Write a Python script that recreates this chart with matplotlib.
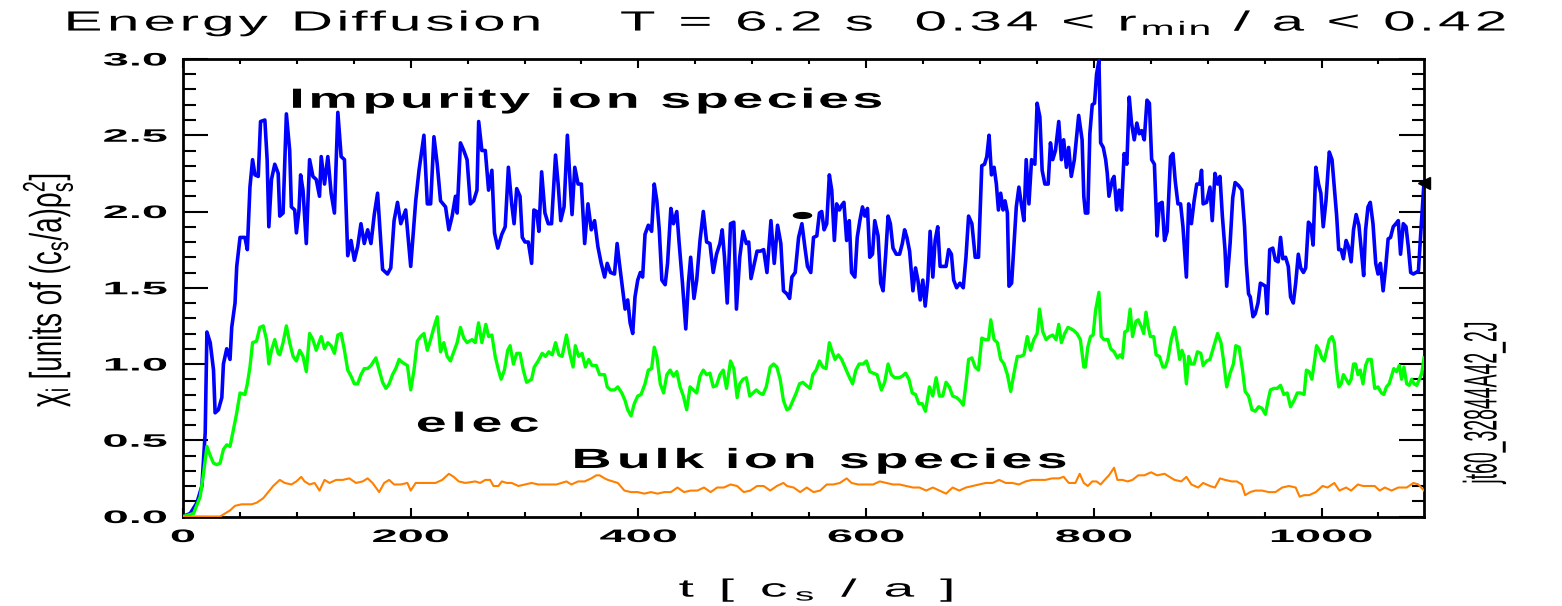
import numpy as np
import matplotlib
matplotlib.use("Agg")
import matplotlib.pyplot as plt
from matplotlib.patheffects import AbstractPathEffect
from matplotlib.path import Path
from matplotlib.transforms import IdentityTransform, Affine2D
from matplotlib.markers import MarkerStyle
from matplotlib.ticker import MultipleLocator, FixedLocator, FormatStrFormatter

# ---------------------------------------------------------------- data
# (t [c_s/a], chi) samples for each channel
impurity = np.array([
    (0, 0.00), (6.4, 0.02), (12.2, 0.09), (16.6, 0.20), (19.5, 0.55), (21.0, 1.21), (23.9, 1.14),
    (26.8, 0.96), (28.2, 0.68), (31.1, 0.70), (34.1, 0.78), (35.5, 1.00), (38.4, 1.10), (41.3, 1.03),
    (42.8, 1.24), (45.7, 1.40), (47.2, 1.64), (50.1, 1.83), (54.4, 1.83), (56.5, 1.75), (58.8, 2.16),
    (61.1, 2.34), (63.2, 2.24), (66.1, 2.23), (68.1, 2.59), (71.9, 2.60), (73.9, 2.34), (75.4, 1.90),
    (77.7, 2.21), (80.6, 2.31), (83.6, 2.25), (85.0, 1.97), (87.9, 1.99), (90.8, 2.64), (93.7, 2.40),
    (95.2, 2.03), (98.1, 2.01), (99.6, 1.86), (101.9, 2.01), (103.3, 2.24), (105.4, 2.14), (108.3, 1.79),
    (111.2, 2.34), (114.1, 2.23), (117.0, 2.21), (119.9, 2.10), (121.4, 2.36), (124.3, 2.18), (127.2, 2.36),
    (130.1, 2.12), (133.0, 1.99), (136.0, 2.65), (138.9, 2.36), (141.8, 2.34), (144.7, 1.71), (147.6, 1.81),
    (150.5, 1.68), (153.4, 1.77), (156.3, 1.92), (159.2, 1.79), (162.2, 1.88), (165.1, 1.79), (168.0, 1.98),
    (170.9, 2.12), (175.3, 1.62), (179.6, 1.59), (182.5, 1.63), (185.4, 1.94), (188.4, 2.06), (191.3, 1.92),
    (195.6, 2.01), (200.0, 1.64), (204.4, 2.07), (207.3, 2.27), (211.6, 2.50), (214.6, 2.05), (217.5, 2.05),
    (220.4, 2.49), (223.3, 2.31), (226.2, 2.07), (230.6, 2.03), (233.5, 1.88), (236.4, 1.97), (239.3, 2.10),
    (240.8, 1.99), (243.7, 2.45), (246.6, 2.40), (249.5, 2.34), (252.4, 2.05), (255.3, 2.07), (258.2, 2.14),
    (259.7, 2.59), (262.5, 2.40), (265.5, 2.40), (268.4, 2.14), (271.3, 2.27), (273.6, 1.86), (276.5, 1.76),
    (280.0, 1.85), (283.0, 1.90), (285.8, 2.29), (288.7, 2.05), (290.8, 1.92), (293.1, 2.15), (296.0, 2.10),
    (298.0, 1.83), (300.4, 1.80), (303.3, 1.80), (306.2, 1.66), (308.2, 2.01), (310.6, 2.00), (312.6, 1.87),
    (315.0, 2.26), (317.9, 1.99), (320.8, 1.92), (323.7, 1.92), (327.2, 2.37), (329.5, 2.18), (331.8, 1.94),
    (334.7, 2.03), (337.6, 2.50), (339.7, 2.23), (341.7, 1.98), (344.1, 2.29), (347.0, 2.18), (349.9, 2.18),
    (352.8, 1.79), (355.7, 2.05), (358.6, 1.88), (361.5, 1.94), (364.4, 1.77), (367.3, 1.66), (370.3, 1.57),
    (372.6, 1.66), (375.5, 1.60), (379.0, 1.59), (381.3, 1.79), (383.3, 1.66), (386.3, 1.48), (388.3, 1.36),
    (390.6, 1.42), (392.7, 1.27), (395.0, 1.20), (397.0, 1.44), (399.4, 1.55), (401.7, 1.60), (403.7, 1.57),
    (405.8, 1.85), (408.7, 1.91), (411.6, 1.87), (413.9, 2.18), (416.2, 2.07), (418.3, 1.88), (420.6, 1.55),
    (423.5, 1.52), (425.6, 1.66), (428.5, 2.02), (430.8, 1.92), (433.7, 2.00), (435.7, 1.80), (438.7, 1.53),
    (441.6, 1.23), (443.9, 1.53), (445.9, 1.70), (448.8, 1.43), (451.2, 1.55), (454.1, 1.81), (457.0, 2.00),
    (459.9, 1.80), (462.8, 1.79), (465.7, 1.60), (468.6, 1.72), (471.6, 1.79), (473.6, 1.88), (475.6, 1.70),
    (478.0, 1.40), (480.9, 1.92), (483.8, 1.93), (486.1, 1.36), (489.0, 1.70), (491.9, 1.87), (494.8, 1.79),
    (496.9, 1.80), (498.9, 1.56), (501.8, 1.66), (504.2, 1.74), (507.1, 1.74), (510.0, 1.75), (512.9, 1.60),
    (516.4, 1.94), (519.3, 1.66), (522.2, 1.91), (525.1, 1.79), (527.4, 1.48), (530.4, 1.46), (532.8, 1.43),
    (534.8, 1.57), (537.7, 1.60), (540.7, 1.83), (543.6, 1.92), (546.5, 1.75), (548.5, 1.64), (551.4, 1.60),
    (553.8, 1.83), (556.7, 1.84), (559.0, 1.99), (561.0, 2.00), (563.1, 1.88), (565.4, 1.92), (567.7, 2.24),
    (569.8, 2.14), (572.1, 1.81), (574.1, 2.05), (576.5, 2.01), (578.5, 2.04), (580.5, 2.06), (582.9, 1.81),
    (585.2, 1.94), (587.2, 1.60), (590.1, 1.57), (592.2, 1.83), (594.5, 1.94), (596.8, 2.03), (598.9, 1.97),
    (601.2, 2.02), (603.2, 1.70), (605.6, 1.72), (607.6, 1.94), (610.5, 1.84), (612.8, 1.53), (614.9, 1.48),
    (617.2, 1.72), (619.3, 1.97), (621.3, 1.92), (623.6, 1.76), (626.5, 1.72), (629.4, 1.72), (631.8, 1.79),
    (633.8, 1.88), (635.8, 1.83), (638.2, 1.74), (641.1, 1.48), (643.4, 1.63), (645.5, 1.55), (647.5, 1.42),
    (649.8, 1.55), (651.9, 1.38), (654.2, 1.55), (656.2, 1.87), (658.6, 1.57), (660.6, 1.81), (662.9, 1.90),
    (665.0, 1.64), (667.3, 1.64), (670.2, 1.64), (672.5, 1.75), (674.9, 1.72), (676.9, 1.55), (679.5, 1.50),
    (682.4, 1.53), (685.3, 1.50), (687.7, 1.70), (690.0, 1.97), (692.9, 1.92), (695.8, 1.70), (698.7, 1.70),
    (701.6, 2.30), (704.0, 2.31), (706.0, 2.36), (708.0, 2.50), (710.1, 2.24), (712.4, 2.29), (714.4, 2.18),
    (716.2, 2.01), (718.2, 2.12), (720.3, 2.01), (722.0, 2.07), (724.1, 1.99), (725.5, 1.51), (727.8, 1.53),
    (729.9, 1.79), (731.9, 2.03), (734.2, 2.16), (736.3, 2.05), (738.6, 1.94), (740.6, 2.34), (743.0, 2.05),
    (745.3, 2.34), (748.2, 2.31), (750.2, 2.71), (752.6, 2.62), (754.6, 2.27), (757.0, 2.18), (759.9, 2.18),
    (761.9, 2.45), (763.9, 2.34), (766.3, 2.40), (769.2, 2.59), (771.5, 2.34), (773.5, 2.47), (775.9, 2.29),
    (777.9, 2.42), (780.2, 2.23), (782.9, 2.34), (786.7, 2.63), (789.7, 2.47), (791.2, 2.10), (792.6, 1.99),
    (794.7, 1.99), (796.5, 2.51), (798.6, 2.70), (800.6, 2.71), (802.4, 2.90), (804.5, 2.99), (806.0, 2.45),
    (808.3, 2.42), (810.4, 2.34), (811.8, 2.25), (813.3, 2.10), (816.3, 2.21), (817.8, 2.23), (820.1, 2.01),
    (822.2, 2.14), (824.3, 2.01), (826.6, 2.38), (829.0, 2.31), (831.1, 2.75), (833.1, 2.58), (835.5, 2.47),
    (837.8, 2.58), (839.9, 2.51), (842.0, 2.53), (844.3, 2.47), (846.7, 2.73), (848.8, 2.71), (850.8, 2.34),
    (853.2, 2.31), (855.6, 1.84), (857.6, 2.05), (860.0, 2.06), (862.1, 1.81), (864.4, 1.87), (867.4, 2.36),
    (869.5, 2.38), (871.5, 2.20), (873.9, 2.05), (876.2, 2.05), (878.3, 1.90), (881.3, 1.57), (883.3, 2.05),
    (885.7, 1.92), (888.1, 2.07), (890.4, 2.18), (893.1, 2.18), (894.6, 2.27), (896.0, 2.05), (899.0, 2.06),
    (902.0, 2.16), (904.0, 1.94), (906.4, 2.25), (908.7, 2.18), (910.8, 2.23), (912.9, 1.97), (915.2, 1.75),
    (916.7, 1.51), (919.7, 1.79), (922.0, 2.09), (924.1, 2.19), (927.1, 2.17), (930.0, 2.14), (932.4, 1.90),
    (933.9, 1.66), (935.9, 1.46), (937.4, 1.44), (939.8, 1.31), (941.8, 1.33), (944.2, 1.40), (946.3, 1.53),
    (948.6, 1.52), (950.7, 1.51), (952.2, 1.33), (954.5, 1.75), (957.2, 1.76), (959.5, 1.68), (961.9, 1.67),
    (964.0, 1.83), (966.0, 1.69), (968.4, 1.70), (970.8, 1.64), (972.8, 1.44), (975.2, 1.40), (977.3, 1.53),
    (979.6, 1.72), (981.7, 1.63), (984.1, 1.60), (986.1, 1.63), (988.5, 1.93), (990.6, 1.91), (992.6, 1.78),
    (995.0, 2.29), (997.4, 2.18), (999.4, 2.12), (1001.5, 1.90), (1003.9, 2.07), (1006.8, 2.39), (1009.2, 2.34),
    (1011.2, 2.16), (1013.3, 1.97), (1015.1, 1.75), (1017.2, 1.75), (1019.2, 1.69), (1021.6, 1.81), (1023.6, 1.77),
    (1026.0, 1.67), (1028.1, 1.88), (1030.4, 1.98), (1032.8, 1.91), (1034.9, 1.75), (1037.0, 1.58), (1038.7, 1.88),
    (1040.8, 2.03), (1042.8, 2.06), (1045.2, 1.92), (1047.6, 1.66), (1049.6, 1.59), (1051.7, 1.66), (1054.1, 1.48),
    (1056.4, 1.64), (1058.5, 1.82), (1060.6, 1.83), (1063.0, 1.90), (1065.3, 1.92), (1067.4, 1.94), (1069.4, 1.72),
    (1071.8, 1.92), (1074.2, 1.90), (1076.2, 1.77), (1078.3, 1.60), (1080.7, 1.59), (1083.0, 1.60), (1085.1, 1.61),
    (1087.5, 1.90), (1090.0, 2.19),
])

electron = np.array([
    (0, 0.00), (9.3, 0.02), (15.1, 0.13), (18.0, 0.28), (21.0, 0.46), (23.9, 0.40), (26.8, 0.35),
    (29.7, 0.34), (32.6, 0.35), (35.5, 0.44), (38.4, 0.47), (41.3, 0.46), (44.3, 0.57), (47.2, 0.68),
    (50.1, 0.81), (54.4, 0.80), (56.5, 0.87), (58.8, 0.98), (61.1, 1.14), (64.6, 1.15), (67.5, 1.24),
    (70.5, 1.25), (73.4, 1.16), (75.4, 1.00), (77.7, 1.09), (80.6, 1.16), (83.6, 1.07), (85.0, 1.06),
    (87.9, 1.14), (90.8, 1.25), (93.7, 1.14), (96.7, 1.05), (99.6, 1.02), (102.5, 1.09), (105.4, 1.05),
    (108.3, 0.95), (111.2, 1.20), (114.1, 1.16), (117.0, 1.09), (121.4, 1.18), (124.3, 1.10), (127.2, 1.14),
    (130.1, 1.12), (133.0, 1.07), (136.0, 1.19), (138.9, 1.20), (141.8, 1.09), (144.7, 0.96), (147.6, 0.92),
    (150.5, 0.87), (153.4, 0.87), (156.3, 0.93), (159.2, 0.97), (162.2, 0.97), (165.1, 0.99), (169.4, 1.04),
    (172.3, 0.96), (175.3, 0.88), (178.2, 0.84), (181.1, 0.87), (184.0, 0.93), (186.9, 0.97), (189.8, 1.03),
    (192.7, 1.01), (197.1, 0.99), (200.0, 0.83), (202.9, 0.96), (205.8, 1.15), (208.7, 1.18), (211.6, 1.20),
    (214.6, 1.09), (217.5, 1.16), (220.4, 1.24), (223.3, 1.31), (226.2, 1.08), (229.1, 1.14), (232.0, 1.05),
    (234.9, 1.02), (237.8, 1.08), (240.8, 1.14), (243.7, 1.24), (246.6, 1.17), (249.5, 1.14), (253.8, 1.16),
    (256.7, 1.14), (259.6, 1.27), (262.5, 1.14), (266.0, 1.26), (268.4, 1.18), (271.3, 1.19), (274.2, 1.05),
    (277.1, 0.96), (279.4, 0.90), (282.3, 0.96), (285.2, 1.09), (287.3, 1.12), (290.2, 1.00), (293.1, 1.07),
    (296.0, 1.07), (298.9, 0.96), (301.8, 0.88), (306.2, 0.90), (308.5, 0.98), (312.0, 1.02), (315.5, 1.07),
    (318.4, 1.05), (321.3, 1.08), (324.3, 1.06), (327.2, 1.14), (330.1, 1.06), (333.0, 1.05), (336.8, 1.19),
    (339.7, 1.07), (342.6, 0.98), (344.6, 1.12), (347.5, 1.05), (350.5, 1.07), (353.4, 0.98), (356.3, 1.03),
    (359.2, 0.99), (363.0, 0.99), (365.9, 0.93), (370.3, 0.93), (372.6, 0.85), (375.5, 0.83), (379.0, 0.83),
    (381.9, 0.85), (385.4, 0.81), (388.3, 0.76), (390.6, 0.70), (393.5, 0.66), (396.4, 0.74), (399.4, 0.79),
    (402.3, 0.80), (405.8, 0.87), (408.7, 0.96), (411.6, 0.97), (413.9, 1.11), (416.2, 1.05), (419.2, 0.87),
    (422.1, 0.81), (425.0, 0.93), (427.9, 0.96), (430.8, 0.92), (433.7, 0.95), (436.6, 0.85), (439.5, 0.79),
    (442.4, 0.70), (445.4, 0.85), (448.3, 0.83), (451.2, 0.81), (454.1, 0.92), (457.0, 0.96), (459.9, 0.93),
    (462.8, 0.94), (465.7, 0.85), (468.6, 0.86), (471.6, 0.93), (474.5, 0.96), (477.4, 0.84), (480.9, 1.02),
    (483.8, 0.97), (486.7, 0.78), (489.0, 0.87), (491.9, 0.90), (494.8, 0.91), (497.8, 0.79), (500.7, 0.81),
    (503.6, 0.83), (506.5, 0.81), (509.4, 0.80), (512.3, 0.85), (515.8, 0.98), (518.7, 1.00), (521.6, 0.98),
    (524.5, 0.90), (527.4, 0.76), (530.4, 0.70), (532.8, 0.71), (535.7, 0.76), (538.6, 0.81), (541.5, 0.87),
    (544.4, 0.88), (547.4, 0.86), (550.8, 0.84), (553.2, 0.93), (556.1, 0.96), (559.0, 1.02), (561.9, 0.98),
    (564.8, 0.97), (567.7, 1.14), (569.8, 1.09), (572.7, 1.03), (575.6, 1.06), (578.5, 1.03), (581.4, 0.98),
    (584.3, 0.93), (588.1, 0.87), (591.0, 0.96), (593.9, 1.00), (597.4, 1.00), (600.3, 1.02), (603.2, 0.95),
    (606.2, 0.94), (609.6, 0.93), (613.4, 0.83), (616.3, 0.88), (619.3, 1.00), (622.2, 0.93), (625.1, 0.91),
    (628.9, 0.91), (631.8, 0.92), (634.7, 0.94), (637.6, 0.90), (640.5, 0.81), (643.4, 0.80), (646.3, 0.74),
    (649.2, 0.74), (652.1, 0.69), (655.6, 0.85), (658.5, 0.79), (661.5, 0.91), (664.4, 0.79), (667.3, 0.79),
    (670.2, 0.88), (673.1, 0.85), (676.0, 0.79), (679.5, 0.78), (682.4, 0.76), (685.3, 0.73), (687.7, 0.87),
    (690.0, 1.03), (692.9, 1.04), (695.8, 0.98), (698.7, 0.96), (701.6, 1.17), (704.5, 1.16), (707.5, 1.16),
    (709.5, 1.29), (712.4, 1.16), (715.3, 1.14), (718.2, 1.03), (721.1, 1.00), (724.1, 0.93), (727.0, 0.82),
    (729.9, 0.94), (732.8, 1.05), (735.7, 1.05), (738.6, 1.06), (741.5, 1.18), (744.4, 1.09), (747.3, 1.16),
    (750.2, 1.20), (752.3, 1.36), (755.2, 1.21), (758.1, 1.16), (761.0, 1.18), (763.9, 1.19), (766.8, 1.16),
    (769.2, 1.26), (771.5, 1.14), (774.4, 1.20), (777.3, 1.24), (780.2, 1.23), (782.3, 1.22), (785.2, 1.20),
    (788.2, 1.16), (791.2, 0.98), (792.6, 0.98), (794.7, 1.11), (797.1, 1.18), (799.4, 1.19), (801.5, 1.35),
    (804.5, 1.47), (806.5, 1.18), (808.9, 1.16), (812.4, 1.16), (814.8, 1.10), (817.8, 1.08), (820.7, 1.04),
    (823.1, 1.06), (825.1, 1.04), (827.2, 1.21), (829.6, 1.22), (831.9, 1.36), (834.0, 1.18), (837.0, 1.28),
    (839.0, 1.29), (842.0, 1.24), (843.8, 1.20), (845.8, 1.34), (847.9, 1.24), (849.7, 1.18), (852.6, 1.18),
    (854.7, 1.06), (857.6, 1.05), (860.6, 0.98), (862.7, 0.98), (865.0, 1.03), (868.0, 1.16), (870.9, 1.24),
    (873.3, 1.14), (875.4, 1.03), (877.4, 1.09), (879.2, 1.05), (881.3, 0.87), (883.3, 1.05), (885.7, 1.00),
    (888.1, 1.00), (891.0, 1.08), (894.0, 1.07), (896.0, 0.99), (899.0, 1.02), (902.0, 1.03), (904.0, 1.08),
    (906.4, 1.14), (908.7, 1.20), (911.7, 1.14), (913.8, 1.03), (916.7, 0.85), (919.7, 0.94), (922.6, 1.00),
    (924.7, 1.12), (927.6, 1.11), (930.6, 0.96), (932.9, 0.82), (935.9, 0.79), (938.9, 0.70), (941.8, 0.69),
    (944.8, 0.72), (947.7, 0.71), (950.7, 0.67), (953.0, 0.76), (955.1, 0.83), (958.1, 0.84), (961.0, 0.84),
    (964.0, 0.86), (966.9, 0.80), (969.9, 0.81), (972.8, 0.72), (975.8, 0.76), (978.7, 0.81), (981.7, 0.81),
    (984.7, 0.80), (986.7, 0.96), (989.1, 0.95), (991.5, 0.90), (993.5, 1.00), (995.6, 1.12), (998.0, 1.09),
    (1000.3, 1.04), (1002.4, 1.02), (1004.5, 1.09), (1006.8, 1.16), (1009.2, 1.18), (1011.2, 1.14), (1013.3, 0.96),
    (1015.1, 0.85), (1017.2, 0.87), (1019.2, 0.93), (1021.6, 0.90), (1024.0, 0.87), (1026.0, 0.90), (1028.1, 1.00),
    (1029.9, 1.00), (1032.0, 0.93), (1034.0, 0.96), (1036.4, 0.87), (1038.7, 0.99), (1040.8, 1.03), (1043.7, 1.03),
    (1046.7, 0.84), (1049.6, 0.85), (1052.6, 0.81), (1054.7, 0.80), (1057.0, 0.85), (1059.4, 0.87), (1061.5, 0.92),
    (1063.5, 0.97), (1065.9, 0.95), (1068.3, 0.99), (1070.3, 0.90), (1072.4, 0.98), (1074.8, 0.87), (1077.1, 0.86),
    (1079.2, 0.90), (1081.2, 0.87), (1083.6, 0.86), (1086.0, 0.90), (1088.0, 0.94), (1090.0, 1.04),
])

bulk = np.array([
    (0, 0.00), (18.0, 0.00), (32.6, 0.00), (37.0, 0.02), (41.3, 0.04), (45.7, 0.07), (51.5, 0.08),
    (55.9, 0.08), (60.3, 0.08), (64.6, 0.09), (70.5, 0.12), (74.8, 0.16), (79.2, 0.20), (85.0, 0.24),
    (89.4, 0.22), (95.2, 0.21), (99.6, 0.23), (103.9, 0.26), (106.8, 0.23), (111.2, 0.21), (115.6, 0.22),
    (119.9, 0.17), (124.3, 0.24), (128.7, 0.22), (134.5, 0.24), (140.3, 0.24), (146.1, 0.25), (152.0, 0.22),
    (157.8, 0.23), (162.2, 0.25), (166.5, 0.22), (172.3, 0.16), (176.7, 0.22), (181.1, 0.24), (185.4, 0.21),
    (191.3, 0.21), (197.1, 0.22), (200.0, 0.17), (204.4, 0.22), (210.2, 0.22), (216.0, 0.22), (221.8, 0.22),
    (227.7, 0.24), (233.5, 0.28), (237.8, 0.26), (242.2, 0.23), (248.0, 0.22), (256.7, 0.23), (261.0, 0.22),
    (265.5, 0.24), (269.8, 0.24), (272.7, 0.20), (277.1, 0.20), (280.0, 0.23), (284.4, 0.22), (288.7, 0.22),
    (294.6, 0.20), (300.4, 0.21), (306.2, 0.22), (312.0, 0.21), (320.8, 0.21), (328.0, 0.21), (332.4, 0.22),
    (336.8, 0.23), (341.1, 0.21), (347.0, 0.23), (352.8, 0.23), (358.6, 0.25), (363.0, 0.27), (365.9, 0.27),
    (370.3, 0.25), (373.2, 0.24), (377.5, 0.23), (381.9, 0.22), (387.7, 0.17), (393.5, 0.16), (399.4, 0.16),
    (405.2, 0.15), (411.0, 0.16), (416.8, 0.15), (422.7, 0.16), (428.5, 0.16), (434.3, 0.19), (440.1, 0.16),
    (445.9, 0.17), (451.8, 0.17), (457.6, 0.19), (463.4, 0.16), (469.2, 0.19), (475.0, 0.19), (480.9, 0.21),
    (486.7, 0.20), (492.5, 0.16), (498.3, 0.17), (504.2, 0.20), (510.0, 0.20), (515.8, 0.17), (521.6, 0.20),
    (527.4, 0.22), (530.5, 0.20), (536.3, 0.19), (542.1, 0.16), (547.9, 0.19), (553.8, 0.16), (559.6, 0.17),
    (565.4, 0.21), (571.2, 0.21), (577.0, 0.22), (582.9, 0.25), (587.2, 0.22), (593.0, 0.21), (600.3, 0.21),
    (606.2, 0.21), (612.0, 0.23), (617.8, 0.22), (623.6, 0.21), (629.4, 0.21), (635.3, 0.20), (641.1, 0.19),
    (646.9, 0.19), (652.7, 0.17), (658.6, 0.19), (664.4, 0.17), (670.2, 0.15), (676.0, 0.19), (681.8, 0.17),
    (687.7, 0.19), (693.5, 0.20), (699.3, 0.21), (705.1, 0.22), (711.0, 0.22), (716.8, 0.24), (722.6, 0.22),
    (728.4, 0.22), (734.2, 0.21), (740.1, 0.23), (745.9, 0.24), (751.7, 0.24), (757.5, 0.24), (763.3, 0.25),
    (769.2, 0.25), (773.5, 0.26), (778.0, 0.22), (783.8, 0.22), (787.6, 0.28), (791.2, 0.22), (794.7, 0.20),
    (798.6, 0.23), (802.4, 0.23), (806.0, 0.21), (809.5, 0.24), (813.3, 0.27), (817.8, 0.32), (820.7, 0.24),
    (825.1, 0.24), (829.6, 0.23), (834.0, 0.24), (839.0, 0.27), (844.3, 0.27), (850.3, 0.29), (855.6, 0.27),
    (862.1, 0.28), (866.5, 0.26), (870.9, 0.24), (876.8, 0.23), (881.3, 0.26), (885.7, 0.21), (891.6, 0.19),
    (896.0, 0.22), (902.0, 0.20), (906.4, 0.19), (910.8, 0.25), (915.2, 0.24), (921.1, 0.23), (925.6, 0.23),
    (930.0, 0.21), (932.9, 0.14), (937.4, 0.16), (941.8, 0.17), (947.7, 0.17), (953.6, 0.16), (959.5, 0.16),
    (965.5, 0.19), (971.4, 0.20), (977.3, 0.19), (980.8, 0.13), (984.7, 0.14), (989.1, 0.14), (995.0, 0.16),
    (1000.9, 0.20), (1005.3, 0.19), (1011.2, 0.22), (1015.7, 0.17), (1021.6, 0.19), (1026.0, 0.17), (1031.9, 0.21),
    (1036.4, 0.20), (1042.3, 0.20), (1046.7, 0.20), (1051.1, 0.17), (1055.6, 0.19), (1061.5, 0.17), (1067.4, 0.19),
    (1074.8, 0.19), (1080.7, 0.22), (1085.1, 0.21), (1090.0, 0.17),
])

# small black flags on the impurity curve
flag_t = [544.0]
flag_chi = [1.98]
edge_t = [1090.0]
edge_chi = [2.19]

x_major = [0, 200, 400, 600, 800, 1000]
y_major = [0.0, 0.5, 1.0, 1.5, 2.0, 2.5, 3.0]

title_text = r"Energy Diffusion    T = 6.2 s  0.34 < r$_{\rm min}$ / a < 0.42"
xlabel_text = r"t [ c$_{\rm s}$ / a ]"
ylabel_text = r"χ$_{\rm i}$ [units of (c$_{\rm s}$/a)ρ$_{\rm s}^{\rm 2}$]"
shot_text = "jt60_32844A42_2J"
species_text = ["Impurity ion species", "elec", "Bulk ion species"]

# ---------------------------------------------------------------- style
plt.rcParams["font.family"] = ["Liberation Sans", "DejaVu Sans"]
plt.rcParams["mathtext.fontset"] = "custom"
plt.rcParams["mathtext.rm"] = "Liberation Sans"
plt.rcParams["mathtext.it"] = "Liberation Sans:italic"
plt.rcParams["mathtext.bf"] = "Liberation Sans:bold"


class Widen(AbstractPathEffect):
    """Widen glyph outlines along the screen x direction.

    shape  : horizontal scale applied to each glyph
    spread : scale applied to the glyph positions (letter spacing)
    width  : if given, spread is chosen so the ink spans this many pixels
    anchor : 'left', 'center' or 'right' edge kept in place
    """

    def __init__(self, shape=1.0, spread=None, width=None, anchor="center"):
        super().__init__()
        self.shape = shape
        self.spread = shape if spread is None else spread
        self.width = width
        self.anchor = anchor

    def draw_path(self, renderer, gc, tpath, affine, rgbFace=None):
        path = affine.transform_path(tpath)
        verts = np.array(path.vertices, dtype=float)
        codes = path.codes
        if codes is None or len(verts) == 0:
            renderer.draw_path(gc, path, IdentityTransform(), rgbFace)
            return
        real = codes != Path.CLOSEPOLY
        starts = list(np.flatnonzero(codes == Path.MOVETO)) + [len(verts)]
        parts = [(a, b) for a, b in zip(starts[:-1], starts[1:])]
        ext = []
        for a, b in parts:
            m = real[a:b]
            xs = verts[a:b, 0][m]
            ext.append((xs.min(), xs.max()))
        lo_all = min(e[0] for e in ext)
        hi_all = max(e[1] for e in ext)
        # counters follow the outline that contains them
        centers = []
        for i, (lo, hi) in enumerate(ext):
            host = (lo, hi)
            for j, (lo2, hi2) in enumerate(ext):
                if j != i and lo2 <= lo + 0.01 and hi <= hi2 + 0.01 and (hi2 - lo2) > (hi - lo) + 0.01:
                    if (host[1] - host[0]) <= (hi - lo) or (hi2 - lo2) < (host[1] - host[0]):
                        host = (lo2, hi2)
            centers.append(0.5 * (host[0] + host[1]))
        spread = self.spread
        if self.width is not None:
            c_lo, c_hi = min(centers), max(centers)
            if c_hi - c_lo > 0:
                i_lo = int(np.argmin(centers)); i_hi = int(np.argmax(centers))
                half = 0.5 * self.shape * ((ext[i_lo][1] - ext[i_lo][0]) + (ext[i_hi][1] - ext[i_hi][0]))
                spread = (self.width - half) / (c_hi - c_lo)
        if self.anchor == "left":
            x0 = lo_all
        elif self.anchor == "right":
            x0 = hi_all
        else:
            x0 = 0.5 * (lo_all + hi_all)
        for (a, b), c in zip(parts, centers):
            verts[a:b, 0] = x0 + spread * (c - x0) + self.shape * (verts[a:b, 0] - c)
        renderer.draw_path(gc, Path(verts, codes), IdentityTransform(), rgbFace)


W, H = 1562, 606
fig = plt.figure(figsize=(W / 100, H / 100), dpi=100)
ax_left, ax_right, ax_top, ax_bot = 183, 1424, 59, 516.5
ax = fig.add_axes([ax_left / W, (H - ax_bot) / H, (ax_right - ax_left) / W, (ax_bot - ax_top) / H])

ax.plot(impurity[:, 0], impurity[:, 1], color="#0000ff", lw=2.6, zorder=3)
ax.plot(electron[:, 0], electron[:, 1], color="#00ff00", lw=2.4, zorder=3)
ax.plot(bulk[:, 0], bulk[:, 1], color="#ff8000", lw=1.5, zorder=3)

oval = MarkerStyle(Path.unit_circle().transformed(Affine2D().scale(1.0, 0.32)))
ax.plot(flag_t, flag_chi, ls="none", marker=oval, ms=13, color="black", zorder=4)
ax.plot(edge_t, edge_chi, ls="none", marker="<", ms=8, color="black", zorder=4, clip_on=False)

ax.set_xlim(0, 1090)
ax.set_ylim(0, 3.0)
ax.xaxis.set_major_locator(FixedLocator(x_major))
ax.xaxis.set_minor_locator(MultipleLocator(50))
ax.yaxis.set_major_locator(FixedLocator(y_major))
ax.yaxis.set_minor_locator(MultipleLocator(0.1))
ax.xaxis.set_major_formatter(FormatStrFormatter("%d"))
ax.yaxis.set_major_formatter(FormatStrFormatter("%.1f"))

for s in ax.spines.values():
    s.set_linewidth(2.0)
ax.tick_params(which="both", direction="in", top=True, right=True, width=1.5, colors="black")
ax.xaxis.set_tick_params(which="major", length=6.5, pad=9, labelsize=13)
ax.xaxis.set_tick_params(which="minor", length=3.6)
ax.yaxis.set_tick_params(which="major", length=18, pad=11.5, labelsize=13)
ax.yaxis.set_tick_params(which="minor", length=9)

for lab in ax.get_xticklabels():
    lab.set_fontweight("bold")
    lab.set_path_effects([Widen(2.6, anchor="center")])
for lab in ax.get_yticklabels():
    lab.set_fontweight("bold")
    lab.set_path_effects([Widen(2.6, anchor="right")])

# axis titles
ax.set_xlabel(xlabel_text, fontsize=18, va="baseline",
              path_effects=[Widen(2.2, width=272, anchor="center")])
ax.xaxis.set_label_coords((816 - ax_left) / (ax_right - ax_left), (ax_bot - 596.7) / (ax_bot - ax_top))
ax.set_ylabel(ylabel_text, fontsize=20, rotation=90, va="center", ha="center",
              path_effects=[Widen(1.6, anchor="center")])
ax.yaxis.set_label_coords((48 - ax_left) / (ax_right - ax_left), (ax_bot - 290) / (ax_bot - ax_top))

fig.suptitle(title_text, x=64 / W, y=1 - 30.7 / H, ha="left", va="baseline", fontsize=20,
             path_effects=[Widen(2.1, width=1436, anchor="left")])

# species labels
label_pos = [(94.6, 2.68, 588), (203.0, 0.556, 120), (340.7, 0.318, 481)]
for txt, (tx, ty, wpx) in zip(species_text, label_pos):
    ax.text(tx, ty, txt, fontsize=20, fontweight="bold", ha="left", va="baseline", zorder=5,
            path_effects=[Widen(2.0, width=wpx, anchor="left")])

ax.text((1485 - ax_left) / (ax_right - ax_left), (ax_bot - 402) / (ax_bot - ax_top), shot_text,
        transform=ax.transAxes, rotation=90, fontsize=14, ha="center", va="center",
        path_effects=[Widen(2.4, anchor="center")])

fig.savefig("out.png", dpi=100)
